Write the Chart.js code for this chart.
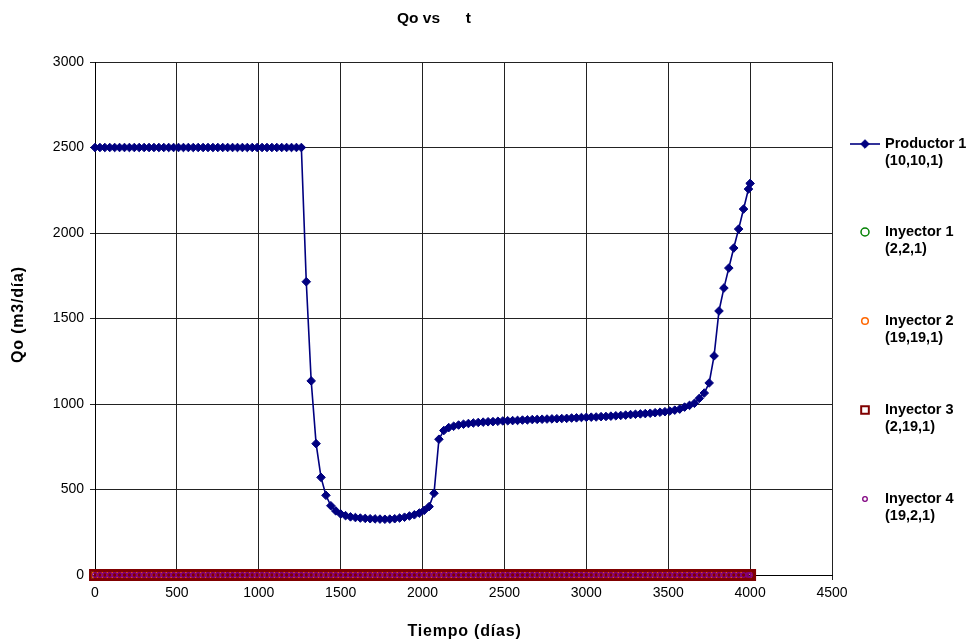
<!DOCTYPE html>
<html>
<head>
<meta charset="utf-8">
<title>Qo vs t</title>
<script src="https://cdn.jsdelivr.net/npm/chart.js@4"></script>
<style>
  html, body { margin: 0; padding: 0; background: #fff; }
  #wrap { width: 969px; height: 642px; }
</style>
</head>
<body>
<div id="wrap"><canvas id="qoChart" width="969" height="642"></canvas></div>
<script>
// tiempo (días)
var tiempo = [
  0, 30, 60, 90, 120, 150, 180, 210, 240, 270,
  300, 330, 360, 390, 420, 450, 480, 510, 540, 570,
  600, 630, 660, 690, 720, 750, 780, 810, 840, 870,
  900, 930, 960, 990, 1020, 1050, 1080, 1110, 1140, 1170,
  1200, 1230, 1260, 1290, 1320, 1350, 1380, 1410, 1440, 1470,
  1500, 1530, 1560, 1590, 1620, 1650, 1680, 1710, 1740, 1770,
  1800, 1830, 1860, 1890, 1920, 1950, 1980, 2010, 2040, 2070,
  2100, 2130, 2160, 2190, 2220, 2250, 2280, 2310, 2340, 2370,
  2400, 2430, 2460, 2490, 2520, 2550, 2580, 2610, 2640, 2670,
  2700, 2730, 2760, 2790, 2820, 2850, 2880, 2910, 2940, 2970,
  3000, 3030, 3060, 3090, 3120, 3150, 3180, 3210, 3240, 3270,
  3300, 3330, 3360, 3390, 3420, 3450, 3480, 3510, 3540, 3570,
  3600, 3630, 3660, 3690, 3720, 3750, 3780, 3810, 3840, 3870,
  3900, 3930, 3960, 3990, 4000
];

// Qo (m3/día) del productor
var qoProductor1 = [
  2500, 2500, 2500, 2500, 2500, 2500, 2500, 2500, 2500, 2500,
  2500, 2500, 2500, 2500, 2500, 2500, 2500, 2500, 2500, 2500,
  2500, 2500, 2500, 2500, 2500, 2500, 2500, 2500, 2500, 2500,
  2500, 2500, 2500, 2500, 2500, 2500, 2500, 2500, 2500, 2500,
  2500, 2500, 2500, 1715, 1135, 768, 571, 466, 405, 375,
  357, 347, 340, 336, 333, 331, 329, 328, 327, 326,
  327, 329, 333, 338, 345, 352, 362, 378, 400, 478,
  794, 845, 862, 870, 877, 882, 886, 889, 892, 894,
  896, 897, 899, 901, 902, 903, 904, 906, 907, 909,
  910, 911, 912, 913, 914, 915, 916, 918, 919, 921,
  922, 923, 924, 926, 927, 929, 931, 933, 935, 938,
  940, 942, 944, 946, 949, 952, 955, 959, 964, 970,
  982, 992, 1004, 1033, 1064, 1123, 1281, 1544, 1678, 1795,
  1912, 2023, 2140, 2257, 2290
];

// los inyectores no producen petróleo: Qo = 0 en todos los tiempos
var qoInyector = [
  0, 0, 0, 0, 0, 0, 0, 0, 0, 0,  0, 0, 0, 0, 0, 0, 0, 0, 0, 0,
  0, 0, 0, 0, 0, 0, 0, 0, 0, 0,  0, 0, 0, 0, 0, 0, 0, 0, 0, 0,
  0, 0, 0, 0, 0, 0, 0, 0, 0, 0,  0, 0, 0, 0, 0, 0, 0, 0, 0, 0,
  0, 0, 0, 0, 0, 0, 0, 0, 0, 0,  0, 0, 0, 0, 0, 0, 0, 0, 0, 0,
  0, 0, 0, 0, 0, 0, 0, 0, 0, 0,  0, 0, 0, 0, 0, 0, 0, 0, 0, 0,
  0, 0, 0, 0, 0, 0, 0, 0, 0, 0,  0, 0, 0, 0, 0, 0, 0, 0, 0, 0,
  0, 0, 0, 0, 0, 0, 0, 0, 0, 0,  0, 0, 0, 0, 0
];

var seriesNames = ["Productor 1", "Inyector 1", "Inyector 2", "Inyector 3", "Inyector 4"];
var seriesCoords = ["(10,10,1)", "(2,2,1)", "(19,19,1)", "(2,19,1)", "(19,2,1)"];

var xTicksMax = 4500, xStep = 500;
var yTicksMax = 3000, yStep = 500;

var FONT = "Arial, 'Liberation Sans', Helvetica, sans-serif";

function pts(ys) {
  return tiempo.map(function (t, i) { return { x: t, y: ys[i] }; });
}

// legendRadius: tamaño del símbolo en la leyenda (en el gráfico se ven más grandes)
var datasets = [
  { label: seriesNames[0], data: pts(qoProductor1), borderColor: "#000080", backgroundColor: "#000080",
    borderWidth: 1.6, pointStyle: "rectRot", pointRadius: 4.3, pointBorderWidth: 1, showLine: true, order: 0, legendRadius: 4.3 },
  { label: seriesNames[1], data: pts(qoInyector), borderColor: "#008000", backgroundColor: "rgba(0,0,0,0)",
    pointStyle: "circle", pointRadius: 4, pointBorderWidth: 1.5, showLine: false, order: 4, legendRadius: 4 },
  { label: seriesNames[2], data: pts(qoInyector), borderColor: "#ff6600", backgroundColor: "rgba(0,0,0,0)",
    pointStyle: "circle", pointRadius: 3.3, pointBorderWidth: 1.5, showLine: false, order: 3, legendRadius: 3.3 },
  { label: seriesNames[3], data: pts(qoInyector), borderColor: "#800000", backgroundColor: "rgba(0,0,0,0)",
    pointStyle: "rect", pointRadius: 6.6, pointBorderWidth: 2.6, showLine: false, order: 2, legendRadius: 5.4 },
  { label: seriesNames[4], data: pts(qoInyector), borderColor: "#800080", backgroundColor: "rgba(0,0,0,0)",
    pointStyle: "circle", pointRadius: 2.3, pointBorderWidth: 1.3, showLine: false, order: 1, legendRadius: 2.3 }
];
datasets.forEach(function (d) { d.clip = false; d.pointHoverRadius = d.pointRadius; d.tension = 0; });

// titulo, ejes y leyenda dibujados a mano (estilo Excel)
var excelDecor = {
  id: "excelDecor",
  afterDraw: function (chart) {
    var ctx = chart.ctx, ca = chart.chartArea;
    ctx.save();
    ctx.fillStyle = "#000";
    ctx.textBaseline = "middle";

    ctx.font = "bold 15.5px " + FONT;
    ctx.textAlign = "center";
    ctx.fillText("Qo vs      t", 434, 19);

    ctx.font = "bold 16px " + FONT;
    ctx.letterSpacing = "0.8px";
    ctx.fillText("Tiempo (días)", (ca.left + ca.right) / 2 + 1, 632);
    ctx.save();
    ctx.translate(19, (ca.top + ca.bottom) / 2 - 4);
    ctx.rotate(-Math.PI / 2);
    ctx.fillText("Qo (m3/día)", 0, 0);
    ctx.restore();
    ctx.letterSpacing = "0px";

    // leyenda
    var rowsY = [144, 232, 321, 410, 499];
    ctx.textAlign = "left";
    ctx.font = "bold 14.5px " + FONT;
    chart.data.datasets.forEach(function (ds, i) {
      var y = rowsY[i];
      if (ds.showLine) {
        ctx.strokeStyle = ds.borderColor;
        ctx.lineWidth = ds.borderWidth;
        ctx.beginPath();
        ctx.moveTo(850, y);
        ctx.lineTo(880, y);
        ctx.stroke();
      }
      ctx.strokeStyle = ds.borderColor;
      ctx.fillStyle = ds.backgroundColor;
      ctx.lineWidth = Math.min(ds.pointBorderWidth, 2);
      Chart.helpers.drawPoint(ctx, { pointStyle: ds.pointStyle, radius: ds.legendRadius, rotation: 0, borderWidth: ds.pointBorderWidth }, 865, y);
      ctx.fillStyle = "#000";
      ctx.fillText(seriesNames[i], 885, y);
      ctx.fillText(seriesCoords[i], 885, y + 17);
    });
    ctx.restore();
  }
};

function plainTick(v) { return String(v); }

new Chart(document.getElementById("qoChart"), {
  type: "scatter",
  data: { datasets: datasets },
  options: {
    responsive: false,
    animation: false,
    events: [],
    layout: { padding: { left: 0, right: 137, top: 62, bottom: 0 } },
    plugins: { legend: { display: false }, title: { display: false }, tooltip: { enabled: false } },
    scales: {
      x: {
        type: "linear", min: 0, max: xTicksMax,
        ticks: { stepSize: xStep, color: "#000", padding: 5, maxRotation: 0, callback: plainTick, font: { family: FONT, size: 14 } },
        grid: { color: "#222", lineWidth: 1, tickLength: 5, tickColor: "#222" },
        border: { color: "#000", width: 1 },
        afterFit: function (s) { s.height = 67; }
      },
      y: {
        type: "linear", min: 0, max: yTicksMax,
        ticks: { stepSize: yStep, color: "#000", padding: 6, callback: plainTick, font: { family: FONT, size: 14 } },
        grid: { color: "#222", lineWidth: 1, tickLength: 5, tickColor: "#222" },
        border: { color: "#000", width: 1 },
        afterFit: function (s) { s.width = 95; }
      }
    }
  },
  plugins: [excelDecor]
});
</script>
</body>
</html>
